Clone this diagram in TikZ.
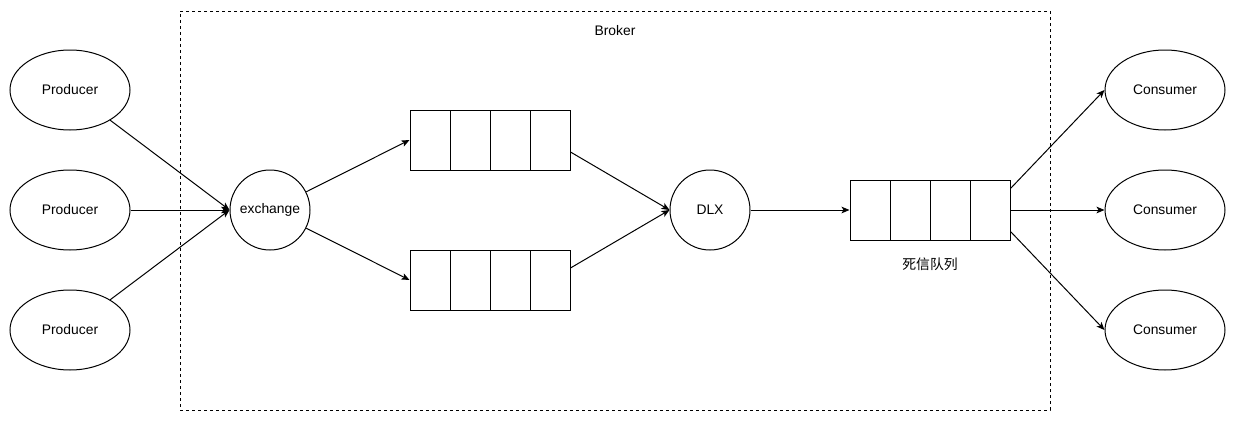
\documentclass[tikz,border=0pt]{standalone}
\usepackage{fontspec}
\setmainfont{Liberation Sans}
\newfontfamily\cjkfont{Noto Sans CJK SC}
\usetikzlibrary{arrows.meta,shapes.geometric}

\begin{document}
\begin{tikzpicture}[x=0.75pt,y=-0.75pt,line width=0.75pt,
    font=\fontsize{10.4}{12.5}\selectfont,
    oval/.style={draw,ellipse,minimum width=90pt,minimum height=60pt,inner sep=0pt},
    hub/.style={draw,circle,minimum size=60pt,inner sep=0pt},
    cell/.style={draw,rectangle,minimum width=30pt,minimum height=45pt,inner sep=0pt},
    link/.style={-{Stealth[length=6pt,width=5pt,inset=1.5pt]}}]
    \useasboundingbox (0,0) rectangle (1236,421);

    % Broker frame
    \node[draw,dash pattern=on 2.25pt off 2.25pt,minimum width=652.5pt,
          minimum height=299.25pt,inner sep=0pt] (broker) at (615,210.5) {};
    \node (brokerlabel) at (615,31) {Broker};

    % Producers and consumers
    \foreach \i/\y in {1/90,2/210,3/330} {
        \node[oval] (prod\i) at (70,\y) {Producer};
        \node[oval] (cons\i) at (1165,\y) {Consumer};
    }

    % Exchange and DLX
    \node[hub] (ex) at (270,210) {exchange};
    \node[hub] (dlx) at (710,210) {DLX};

    % Queues
    \foreach \i in {1,...,4} {
        \node[cell] (qa\i) at ({390+40*\i},140) {};
        \node[cell] (qb\i) at ({390+40*\i},280) {};
        \node[cell] (dl\i) at ({830+40*\i},210) {};
    }
    \node[font=\cjkfont\fontsize{10.4}{12.5}\selectfont] (dllabel) at (930,264) {死信队列};

    % Connectors
    \foreach \i in {1,2,3}
        \draw[link] (prod\i) -- (ex.west);
    \draw[link] (ex) -- (qa1.west);
    \draw[link] (ex) -- (qb1.west);
    \draw[link] (qa4) -- (dlx.west);
    \draw[link] (qb4) -- (dlx.west);
    \draw[link] (dlx) -- (dl1.west);
    \foreach \i in {1,2,3}
        \draw[link] (dl4) -- (cons\i.west);
\end{tikzpicture}
\end{document}
